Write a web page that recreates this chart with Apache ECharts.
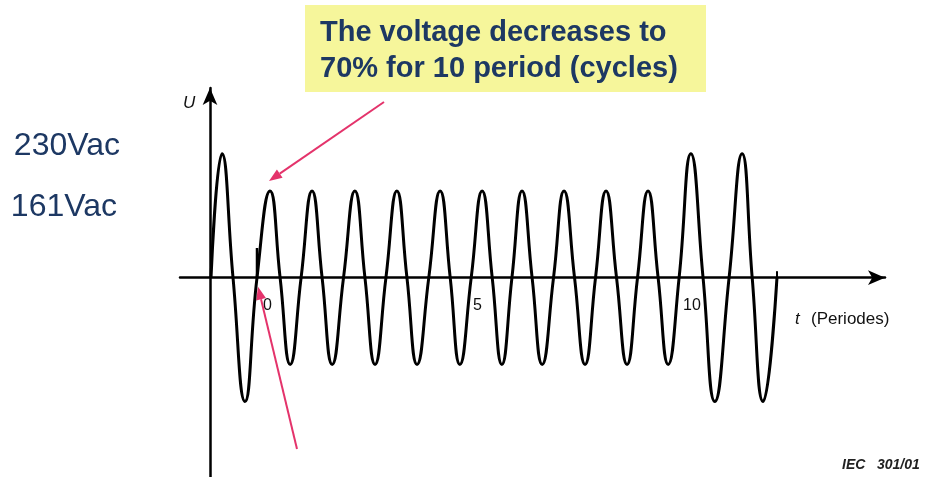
<!DOCTYPE html>
<html>
<head>
<meta charset="utf-8">
<script src="https://cdn.jsdelivr.net/npm/echarts@6/dist/echarts.min.js"></script>
<style>
  html, body { margin: 0; padding: 0; background: #ffffff; }
  #chart { width: 926px; height: 477px; }
</style>
</head>
<body>
<div id="chart"></div>
<script>
// Waveform key points: zero crossings, crests and troughs (time in periods, voltage in V)
const periods = [
  -1.095, -0.833, -0.571, -0.286, 0,
  0.31, 0.55, 0.79, 1.05,
  1.31, 1.55, 1.79, 2.06,
  2.33, 2.57, 2.81, 3.07,
  3.33, 3.57, 3.81, 4.09,
  4.36, 4.60, 4.83, 5.10,
  5.36, 5.60, 5.83, 6.07,
  6.31, 6.55, 6.79, 7.06,
  7.31, 7.56, 7.81, 8.06,
  8.31, 8.56, 8.81, 9.06,
  9.31, 9.55, 9.79, 10.05,
  10.33, 10.62, 10.90, 11.24,
  11.55, 11.79, 12.05, 12.38
];
const volts = [
  0, 230, 0, -230, 0,
  161, 0, -161, 0,
  161, 0, -161, 0,
  161, 0, -161, 0,
  161, 0, -161, 0,
  161, 0, -161, 0,
  161, 0, -161, 0,
  161, 0, -161, 0,
  161, 0, -161, 0,
  161, 0, -161, 0,
  161, 0, -161, 0,
  230, 0, -230, 0,
  230, 0, -230, 0
];

// Short switching markers on the time axis
const dipStartPeriods = [0, 0];
const dipStartVolts = [0, 55];
const endPeriods = [12.38, 12.38];
const endVolts = [0, 12];

// Axis labels
const voltLabels = ['230Vac', '161Vac'];
const periodTicks = [0, 5, 10];

const pairs = (xs, ys) => xs.map((x, i) => [x, ys[i]]);

const NAVY = '#1d3863';
const PINK = '#e4336b';
const FONT = "'Liberation Sans', Arial, sans-serif";

const chart = echarts.init(document.getElementById('chart'), null, { renderer: 'canvas' });

chart.setOption({
  backgroundColor: '#ffffff',
  animation: false,
  grid: { left: 180, right: 41, top: 88, bottom: 0, outerBoundsMode: 'none', containLabel: false },
  xAxis: {
    type: 'value',
    min: -1.8333,
    max: 14.952,
    axisLine: {
      onZero: true,
      symbol: ['none', 'arrow'],
      symbolSize: [11, 17],
      lineStyle: { color: '#000', width: 2.5 }
    },
    axisTick: { show: false },
    splitLine: { show: false },
    axisLabel: { show: false }
  },
  yAxis: {
    type: 'value',
    min: -370,
    max: 352,
    offset: -30,
    axisLine: {
      onZero: false,
      symbol: ['none', 'arrow'],
      symbolSize: [11, 17],
      lineStyle: { color: '#000', width: 2.5 }
    },
    axisTick: { show: false },
    splitLine: { show: false },
    axisLabel: { show: false }
  },
  series: [
    {
      name: 'U',
      type: 'line',
      data: pairs(periods, volts),
      smooth: 0.5,
      showSymbol: false,
      lineStyle: { color: '#000', width: 3 }
    },
    {
      type: 'line',
      data: pairs(dipStartPeriods, dipStartVolts),
      showSymbol: false,
      lineStyle: { color: '#000', width: 2.5 }
    },
    {
      type: 'line',
      data: pairs(endPeriods, endVolts),
      showSymbol: false,
      lineStyle: { color: '#000', width: 2 }
    }
  ]
});

// Pink pointer arrows, anchored to the waveform
function arrow(from, to, id) {
  const dx = to[0] - from[0], dy = to[1] - from[1];
  const len = Math.hypot(dx, dy);
  const ux = dx / len, uy = dy / len;
  const headLen = 13, headHalf = 5;
  const bx = to[0] - ux * headLen, by = to[1] - uy * headLen;
  return [
    {
      type: 'line', id: id + '-shaft',
      shape: { x1: from[0], y1: from[1], x2: bx, y2: by },
      style: { stroke: PINK, lineWidth: 2 }
    },
    {
      type: 'polygon', id: id + '-head',
      shape: { points: [
        [to[0], to[1]],
        [bx - uy * headHalf, by + ux * headHalf],
        [bx + uy * headHalf, by - ux * headHalf]
      ] },
      style: { fill: PINK }
    }
  ];
}

const toPx = (t, u) => chart.convertToPixel({ gridIndex: 0 }, [t, u]);
const crest = toPx(periods[5], volts[5]);
const dipStart = toPx(0, 0);

const periodLabels = periodTicks.map((v, i) => {
  const p = toPx(v, 0);
  return {
    type: 'text', id: 'tick-' + i,
    style: { text: String(v), x: p[0] + 6, y: p[1] + 28, fill: '#111',
             font: '16px ' + FONT, textVerticalAlign: 'middle' }
  };
});

chart.setOption({
  graphic: [
    {
      type: 'rect', id: 'note-box',
      shape: { x: 305, y: 5, width: 401, height: 87 },
      style: { fill: '#f6f69b' }
    },
    {
      type: 'text', id: 'note-1',
      style: { text: 'The voltage decreases to', x: 320, y: 33, fill: NAVY,
               font: 'bold 29px ' + FONT, textVerticalAlign: 'middle' }
    },
    {
      type: 'text', id: 'note-2',
      style: { text: '70% for 10 period (cycles)', x: 320, y: 69, fill: NAVY,
               font: 'bold 29px ' + FONT, textVerticalAlign: 'middle' }
    },
    {
      type: 'text', id: 'volt-hi',
      style: { text: voltLabels[0], x: 120, y: 146, fill: NAVY,
               font: '32px ' + FONT, textAlign: 'right', textVerticalAlign: 'middle' }
    },
    {
      type: 'text', id: 'volt-lo',
      style: { text: voltLabels[1], x: 117, y: 207, fill: NAVY,
               font: '32px ' + FONT, textAlign: 'right', textVerticalAlign: 'middle' }
    },
    {
      type: 'text', id: 'u-name',
      style: { text: 'U', x: 183, y: 103, fill: '#111',
               font: 'italic 17px ' + FONT, textVerticalAlign: 'middle' }
    },
    {
      type: 'text', id: 't-name',
      style: { text: 't', x: 795, y: 319, fill: '#111',
               font: 'italic 17px ' + FONT, textVerticalAlign: 'middle' }
    },
    {
      type: 'text', id: 't-unit',
      style: { text: '(Periodes)', x: 811, y: 319, fill: '#111',
               font: '17px ' + FONT, textVerticalAlign: 'middle' }
    },
    {
      type: 'text', id: 'ref',
      style: { text: 'IEC   301/01', x: 842, y: 465, fill: '#222',
               font: 'italic bold 14px ' + FONT, textVerticalAlign: 'middle' }
    },
    ...periodLabels,
    ...arrow([384, 102], [crest[0] - 1, crest[1] - 10], 'arrow-crest'),
    ...arrow([297, 449], [dipStart[0] + 1, dipStart[1] + 9], 'arrow-start')
  ]
});
</script>
</body>
</html>
